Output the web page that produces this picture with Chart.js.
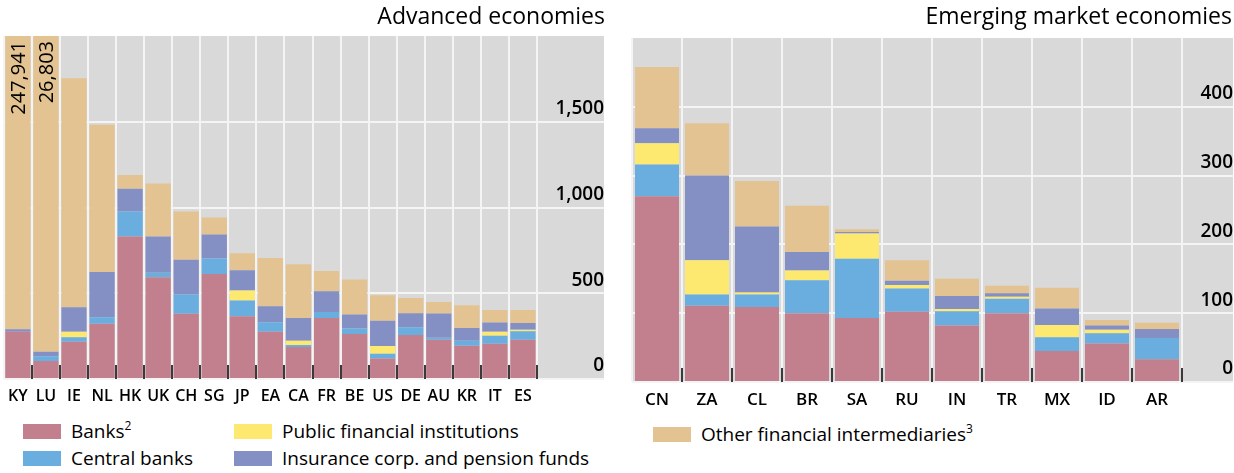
<!DOCTYPE html>
<html>
<head>
<meta charset="utf-8">
<script src="https://cdn.jsdelivr.net/npm/chart.js@4"></script>
<style>
  body { margin: 0; background: #fff; font-family: "Open Sans", sans-serif; color: #000; }
  #wrap { position: relative; width: 1234px; height: 473px; overflow: hidden; }
  .box { position: absolute; top: 0; height: 412px; }
  .ttl { position: absolute; top: 0; font-size: 23px; line-height: 30px; white-space: nowrap; }
  .lg { position: absolute; font-size: 19px; line-height: 22px; white-space: nowrap; }
  .sw { display: inline-block; width: 38px; height: 15px; vertical-align: -1px; margin-right: 10px; }
  sup { font-size: 12px; vertical-align: 8px; line-height: 0; }
</style>
</head>
<body>
<div id="wrap">
  <div class="box" style="left:0;width:608px"><canvas id="adv"></canvas></div>
  <div class="box" style="left:620px;width:614px"><canvas id="eme"></canvas></div>
  <div class="ttl" style="right:629px">Advanced economies</div>
  <div class="ttl" style="right:2px">Emerging market economies</div>

  <div class="lg" style="left:23px;top:420px"><span class="sw" style="background:#c27f8e"></span>Banks<sup>2</sup></div>
  <div class="lg" style="left:23px;top:447px"><span class="sw" style="background:#6aaee0"></span>Central banks</div>
  <div class="lg" style="left:234px;top:420px"><span class="sw" style="background:#fde870"></span>Public financial institutions</div>
  <div class="lg" style="left:234px;top:447px"><span class="sw" style="background:#848fc4"></span>Insurance corp. and pension funds</div>
  <div class="lg" style="left:653px;top:423px"><span class="sw" style="background:#e2c391"></span>Other financial intermediaries<sup>3</sup></div>
</div>

<script>
// --- Data ---
const advLabels = ['KY','LU','IE','NL','HK','UK','CH','SG','JP','EA','CA','FR','BE','US','DE','AU','KR','IT','ES'];
const advBanks     = [275, 105, 217, 322, 831, 593, 380, 612, 366, 275, 186, 356, 263, 120, 256, 229, 194, 205, 229];
const advCentral   = [0,   27,  27,  38,  146, 27,  112, 90,  91,  56,  12,  35,  32,  27,  46,  11,  29,  47,  50];
const advPublic    = [0,   0,   31,  0,   0,   0,   0,   0,   59,  0,   25,  0,   0,   45,  0,   0,   0,   23,  8];
const advInsurance = [15,  27,  144, 264, 132, 211, 204, 141, 118, 93,  133, 121, 81,  147, 82,  142, 75,  55,  39];
const advOther     = [247651, 26644, 1335, 859, 81, 309, 281, 99, 99, 281, 313, 118, 204, 149, 89, 67, 132, 73, 77];
const advTicks = [0, 500, 1000, 1500];

const emeLabels = ['CN','ZA','CL','BR','SA','RU','IN','TR','MX','ID','AR'];
const emeBanks     = [270, 111, 109, 100, 93, 102, 82, 100, 45, 56, 33];
const emeCentral   = [46,  16,  18,  48,  86, 34,  21, 21,  20, 15, 31];
const emePublic    = [31,  50,  3,   14,  37, 5,   3,  3,   18, 5,  0];
const emeInsurance = [22,  123, 96,  27,  2,  6,   19, 5,   24, 6,  13];
const emeOther     = [89,  76,  66,  67,  4,  30,  25, 11,  30, 8,  9];
const emeTicks = [0, 100, 200, 300, 400];

const COLORS = {
    banks: '#c27f8e',
    central: '#6aaee0',
    pub: '#fde870',
    ins: '#848fc4',
    other: '#e2c391'
};
const FONT = '"Open Sans", sans-serif';

// grey panel behind plot + axis strip, dark stubs at category edges, labels on clipped bars
const panelPlugin = {
    id: 'panel',
    beforeDraw(chart) {
        const { ctx, chartArea } = chart;
        const y = chart.scales.y;
        ctx.save();
        ctx.fillStyle = '#d9d9d9';
        ctx.fillRect(chartArea.left, chartArea.top, y.right - chartArea.left, chartArea.bottom - chartArea.top);
        ctx.restore();
    },
    afterDatasetsDraw(chart) {
        const { ctx, chartArea } = chart;
        const x = chart.scales.x;
        const n = chart.data.labels.length;
        const half = (x.getPixelForValue(1) - x.getPixelForValue(0)) / 2;
        ctx.save();
        ctx.strokeStyle = '#3a3a3a';
        ctx.lineWidth = 2;
        for (let i = 0; i < n; i++) {
            const px = Math.round(x.getPixelForValue(i) + half);
            ctx.beginPath();
            ctx.moveTo(px, chartArea.bottom - 14);
            ctx.lineTo(px, chartArea.bottom);
            ctx.stroke();
        }
        // values for bars taller than the axis
        const max = chart.scales.y.max;
        const meta = chart.getDatasetMeta(0);
        ctx.fillStyle = '#000';
        ctx.font = '500 20px ' + FONT;
        ctx.textAlign = 'right';
        ctx.textBaseline = 'middle';
        for (let i = 0; i < n; i++) {
            let total = 0;
            chart.data.datasets.forEach(ds => total += ds.data[i]);
            if (total > max) {
                ctx.save();
                ctx.translate(meta.data[i].x, chartArea.top + 5);
                ctx.rotate(-Math.PI / 2);
                ctx.fillText(total.toLocaleString('en-US'), 0, 1);
                ctx.restore();
            }
        }
        ctx.restore();
    }
};

function makeChart(id, labels, series, yMax, ticks, axisW, pad, xAxisH, barFrac, xFont) {
    const names = ['Banks', 'Central banks', 'Public financial institutions', 'Insurance corp. and pension funds', 'Other financial intermediaries'];
    const cols = [COLORS.banks, COLORS.central, COLORS.pub, COLORS.ins, COLORS.other];
    return new Chart(document.getElementById(id), {
        type: 'bar',
        data: {
            labels: labels,
            datasets: series.map((d, i) => ({
                label: names[i],
                data: d,
                backgroundColor: cols[i],
                borderWidth: 0,
                barPercentage: barFrac,
                categoryPercentage: 1
            }))
        },
        options: {
            responsive: true,
            maintainAspectRatio: false,
            animation: false,
            layout: { padding: pad },
            plugins: { legend: { display: false }, tooltip: { enabled: false } },
            scales: {
                x: {
                    stacked: true,
                    grid: { color: '#f4f4f4', lineWidth: 2, drawTicks: false, offset: true },
                    border: { display: false },
                    ticks: {
                        color: '#000', padding: 8, autoSkip: false, maxRotation: 0, minRotation: 0,
                        font: { family: FONT, size: xFont, weight: '600' }
                    },
                    afterFit: s => { s.height = xAxisH; }
                },
                y: {
                    stacked: true,
                    position: 'right',
                    min: 0,
                    max: yMax,
                    afterBuildTicks: s => { s.ticks = ticks.map(v => ({ value: v })); },
                    grid: { color: '#f4f4f4', lineWidth: 2, drawTicks: true, tickLength: axisW, tickColor: '#f4f4f4' },
                    border: { display: false },
                    ticks: {
                        color: '#000',
                        crossAlign: 'far',
                        labelOffset: -13,
                        padding: 0,
                        font: { family: FONT, size: 19, weight: '600' },
                        callback: v => v.toLocaleString('en-US')
                    },
                    afterFit: s => { s.width = axisW; }
                }
            }
        },
        plugins: [panelPlugin]
    });
}

makeChart('adv', advLabels, [advBanks, advCentral, advPublic, advInsurance, advOther],
    2000, advTicks, 67, { left: 1, right: 4, top: 36, bottom: 0 }, 33, 0.9, 16);
makeChart('eme', emeLabels, [emeBanks, emeCentral, emePublic, emeInsurance, emeOther],
    500, emeTicks, 51, { left: 12, right: 1, top: 38, bottom: 0 }, 30, 0.88, 17);
</script>
</body>
</html>
